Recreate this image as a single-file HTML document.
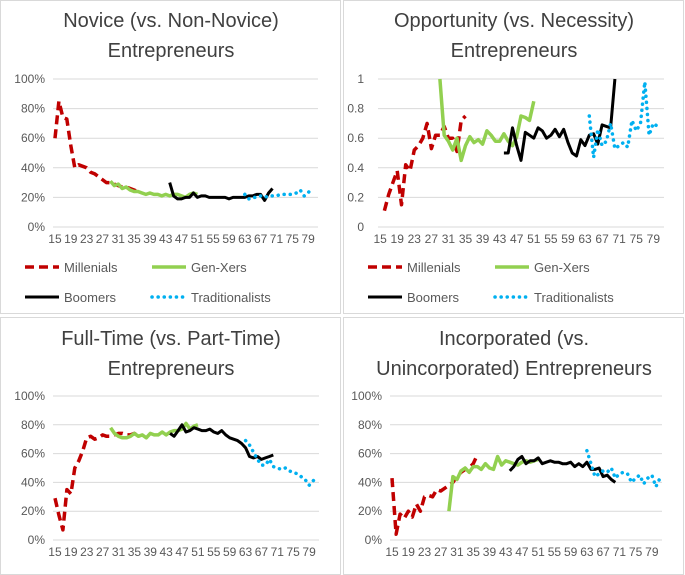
<!DOCTYPE html>
<html><head><meta charset="utf-8"><style>
body{margin:0;background:#fff}
svg{display:block;font-family:"Liberation Sans",sans-serif}
</style></head><body>
<svg id="c" width="685" height="575">
<rect x="0.5" y="0.5" width="340" height="313" fill="none" stroke="#d9d9d9"/>
<rect x="343.5" y="0.5" width="340" height="313" fill="none" stroke="#d9d9d9"/>
<rect x="0.5" y="317.5" width="340" height="257" fill="none" stroke="#d9d9d9"/>
<rect x="343.5" y="317.5" width="340" height="257" fill="none" stroke="#d9d9d9"/>
<g font-size="20" fill="#404040" text-anchor="middle">
<text x="171" y="27">Novice (vs. Non-Novice)</text>
<text x="171" y="57">Entrepreneurs</text>
<text x="514" y="27">Opportunity (vs. Necessity)</text>
<text x="514" y="57">Entrepreneurs</text>
<text x="171" y="345">Full-Time (vs. Part-Time)</text>
<text x="171" y="375">Entrepreneurs</text>
<text x="514" y="345">Incorporated (vs.</text>
<text x="514" y="375">Unincorporated) Entrepreneurs</text>
</g>
</svg>
<script>
const ages = []; for (let a = 15; a <= 81; a++) ages.push(a);
const xTickLabels = ["15","19","23","27","31","35","39","43","47","51","55","59","63","67","71","75","79"];
const pctTicks = ["0%","20%","40%","60%","80%","100%"];
const decTicks = ["0","0.2","0.4","0.6","0.8","1"];
const seriesNames = ["Millenials","Gen-Xers","Boomers","Traditionalists"];

const noviceMillStart = 15;
const noviceMill = [.60,.85,.74,.73,.55,.40,.42,.41,.40,.37,.36,.34,.32,.30,.30,.29,.28,.27,.27,.26,.25,.24];
const noviceGenXStart = 29;
const noviceGenX = [.31,.28,.29,.26,.27,.25,.24,.24,.23,.22,.23,.22,.22,.21,.22,.21,.22,.22,.21,.20,.22,.23,.22];
const noviceBoomStart = 44;
const noviceBoom = [.30,.21,.19,.19,.20,.20,.23,.20,.21,.21,.20,.20,.20,.20,.20,.19,.20,.20,.20,.20,.21,.21,.22,.22,.18,.23,.26];
const noviceTradStart = 63;
const noviceTrad = [.22,.19,.20,.20,.21,.20,.21,.21,.21,.22,.22,.22,.22,.23,.25,.21,.23,.27];

const oppMillStart = 16;
const oppMill = [.11,.22,.30,.38,.15,.42,.38,.52,.55,.60,.70,.53,.62,.62,.68,.60,.60,.51,.72,.75];
const oppGenXStart = 29;
const oppGenX = [1.0,.62,.58,.52,.60,.45,.55,.61,.57,.59,.56,.65,.62,.58,.58,.63,.58,.55,.61,.75,.74,.72,.85];
const oppBoomStart = 44;
const oppBoom = [.50,.50,.67,.55,.45,.64,.62,.60,.67,.65,.60,.62,.66,.61,.66,.57,.50,.48,.59,.55,.62,.63,.56,.69,.68,.67,1.0];
const oppTradStart = 64;
const oppTrad = [.75,.47,.66,.55,.58,.70,.53,.55,.57,.54,.72,.65,.70,.98,.62,.70,.68];

const ftMillStart = 15;
const ftMill = [.29,.17,.07,.35,.32,.50,.55,.62,.71,.72,.70,.71,.73,.72,.72,.73,.74,.74,.73,.73,.74,.72];
const ftGenXStart = 29;
const ftGenX = [.78,.74,.72,.71,.71,.72,.74,.72,.73,.71,.74,.73,.73,.75,.73,.75,.76,.76,.77,.81,.77,.79,.80];
const ftBoomStart = 44;
const ftBoom = [.74,.72,.76,.80,.75,.76,.78,.77,.76,.76,.77,.75,.74,.76,.73,.71,.70,.69,.67,.64,.58,.57,.58,.56,.57,.58,.59];
const ftTradStart = 63;
const ftTrad = [.69,.66,.61,.56,.52,.52,.56,.51,.50,.49,.50,.48,.47,.46,.44,.42,.38,.41,.44];

const incMillStart = 15;
const incMill = [.43,.04,.18,.15,.20,.16,.25,.20,.30,.31,.30,.35,.34,.36,.38,.40,.44,.47,.49,.50,.53,.59];
const incGenXStart = 29;
const incGenX = [.20,.44,.42,.48,.50,.47,.51,.51,.49,.53,.50,.49,.58,.52,.55,.54,.53,.52,.54,.55,.54,.55,.56];
const incBoomStart = 44;
const incBoom = [.48,.51,.56,.58,.53,.55,.55,.57,.53,.54,.55,.54,.54,.53,.53,.54,.51,.53,.51,.54,.49,.49,.50,.44,.45,.42,.40];
const incTradStart = 63;
const incTrad = [.62,.53,.44,.46,.48,.47,.50,.43,.46,.47,.46,.40,.43,.45,.39,.43,.45,.37,.43];

const NS = "http://www.w3.org/2000/svg";
const svg = document.getElementById('c');
function mk(tag, attrs, parent) {
  const e = document.createElementNS(NS, tag);
  for (const k in attrs) e.setAttribute(k, attrs[k]);
  (parent || svg).appendChild(e);
  return e;
}
const styles = [
  {stroke:"#c00000", w:3.5, dash:"9,5", cap:"butt"},
  {stroke:"#92d050", w:3.5, dash:"", cap:"butt"},
  {stroke:"#000000", w:3, dash:"", cap:"butt"},
  {stroke:"#00b0f0", w:3.5, dash:"0.1,6", cap:"round"}
];
const panels = [
  {id:"novice", l:53, r:318, t:79, b:227, labels:pctTicks, labelX:45,
   series:[[noviceMillStart,noviceMill],[noviceGenXStart,noviceGenX],[noviceBoomStart,noviceBoom],[noviceTradStart,noviceTrad]], legend:true, lx:0},
  {id:"opportunity", l:378, r:664, t:79, b:227, labels:decTicks, labelX:364,
   series:[[oppMillStart,oppMill],[oppGenXStart,oppGenX],[oppBoomStart,oppBoom],[oppTradStart,oppTrad]], legend:true, lx:343},
  {id:"fulltime", l:53, r:319, t:396, b:540, labels:pctTicks, labelX:45,
   series:[[ftMillStart,ftMill],[ftGenXStart,ftGenX],[ftBoomStart,ftBoom],[ftTradStart,ftTrad]], legend:false},
  {id:"incorporated", l:390, r:662, t:396, b:540, labels:pctTicks, labelX:382,
   series:[[incMillStart,incMill],[incGenXStart,incGenX],[incBoomStart,incBoom],[incTradStart,incTrad]], legend:false}
];
const slug = ["millenials","gen-xers","boomers","traditionalists"];
panels.forEach(p => {
  const g = mk('g', {});
  
  
  const step = (p.r - p.l) / ages.length;
  const xs = a => p.l + (ages.indexOf(a) + 0.5) * step;
  const ys = v => p.b - v * (p.b - p.t);
  p.labels.forEach((lab, i) => {
    const y = p.b - i * (p.b - p.t) / (p.labels.length - 1);
    const ln = mk('line', {x1:p.l, x2:p.r, y1:y, y2:y, stroke:"#d9d9d9", "stroke-width":1}, g);
    
    
    const t = mk('text', {x:p.labelX, y:y+4, "font-size":12, fill:"#595959", "text-anchor":"end"}, g);
    t.textContent = lab;
    
    
  });
  xTickLabels.forEach(lab => {
    const t = mk('text', {x:xs(+lab), y:p.b+16, "font-size":12, fill:"#595959", "text-anchor":"middle"}, g);
    t.textContent = lab;
    
    
  });
  p.series.forEach((s, si) => {
    const [start, vals] = s;
    const pts = vals.map((v, i) => xs(start + i).toFixed(1) + ',' + ys(v).toFixed(1)).join(' ');
    const st = styles[si];
    const pl = mk('polyline', {points:pts, fill:"none", stroke:st.stroke, "stroke-width":st.w, "stroke-dasharray":st.dash, "stroke-linecap":st.cap, "stroke-linejoin":"round"}, g);
    
    
  });
  if (p.legend) {
    const pos = [[25,267],[152,267],[25,297],[152,297]];
    seriesNames.forEach((n, si) => {
      const st = styles[si];
      const lg = mk('g', {}, g);
      
      
      const x0 = p.lx + pos[si][0], y0 = pos[si][1];
      mk('line', {x1:x0, x2:x0+34, y1:y0, y2:y0, stroke:st.stroke, "stroke-width":st.w, "stroke-dasharray":st.dash, "stroke-linecap":st.cap}, lg);
      const t = mk('text', {x:x0+39, y:y0+5, "font-size":13, fill:"#595959"}, lg);
      t.textContent = n;
    });
  }
});
</script>
</body></html>
